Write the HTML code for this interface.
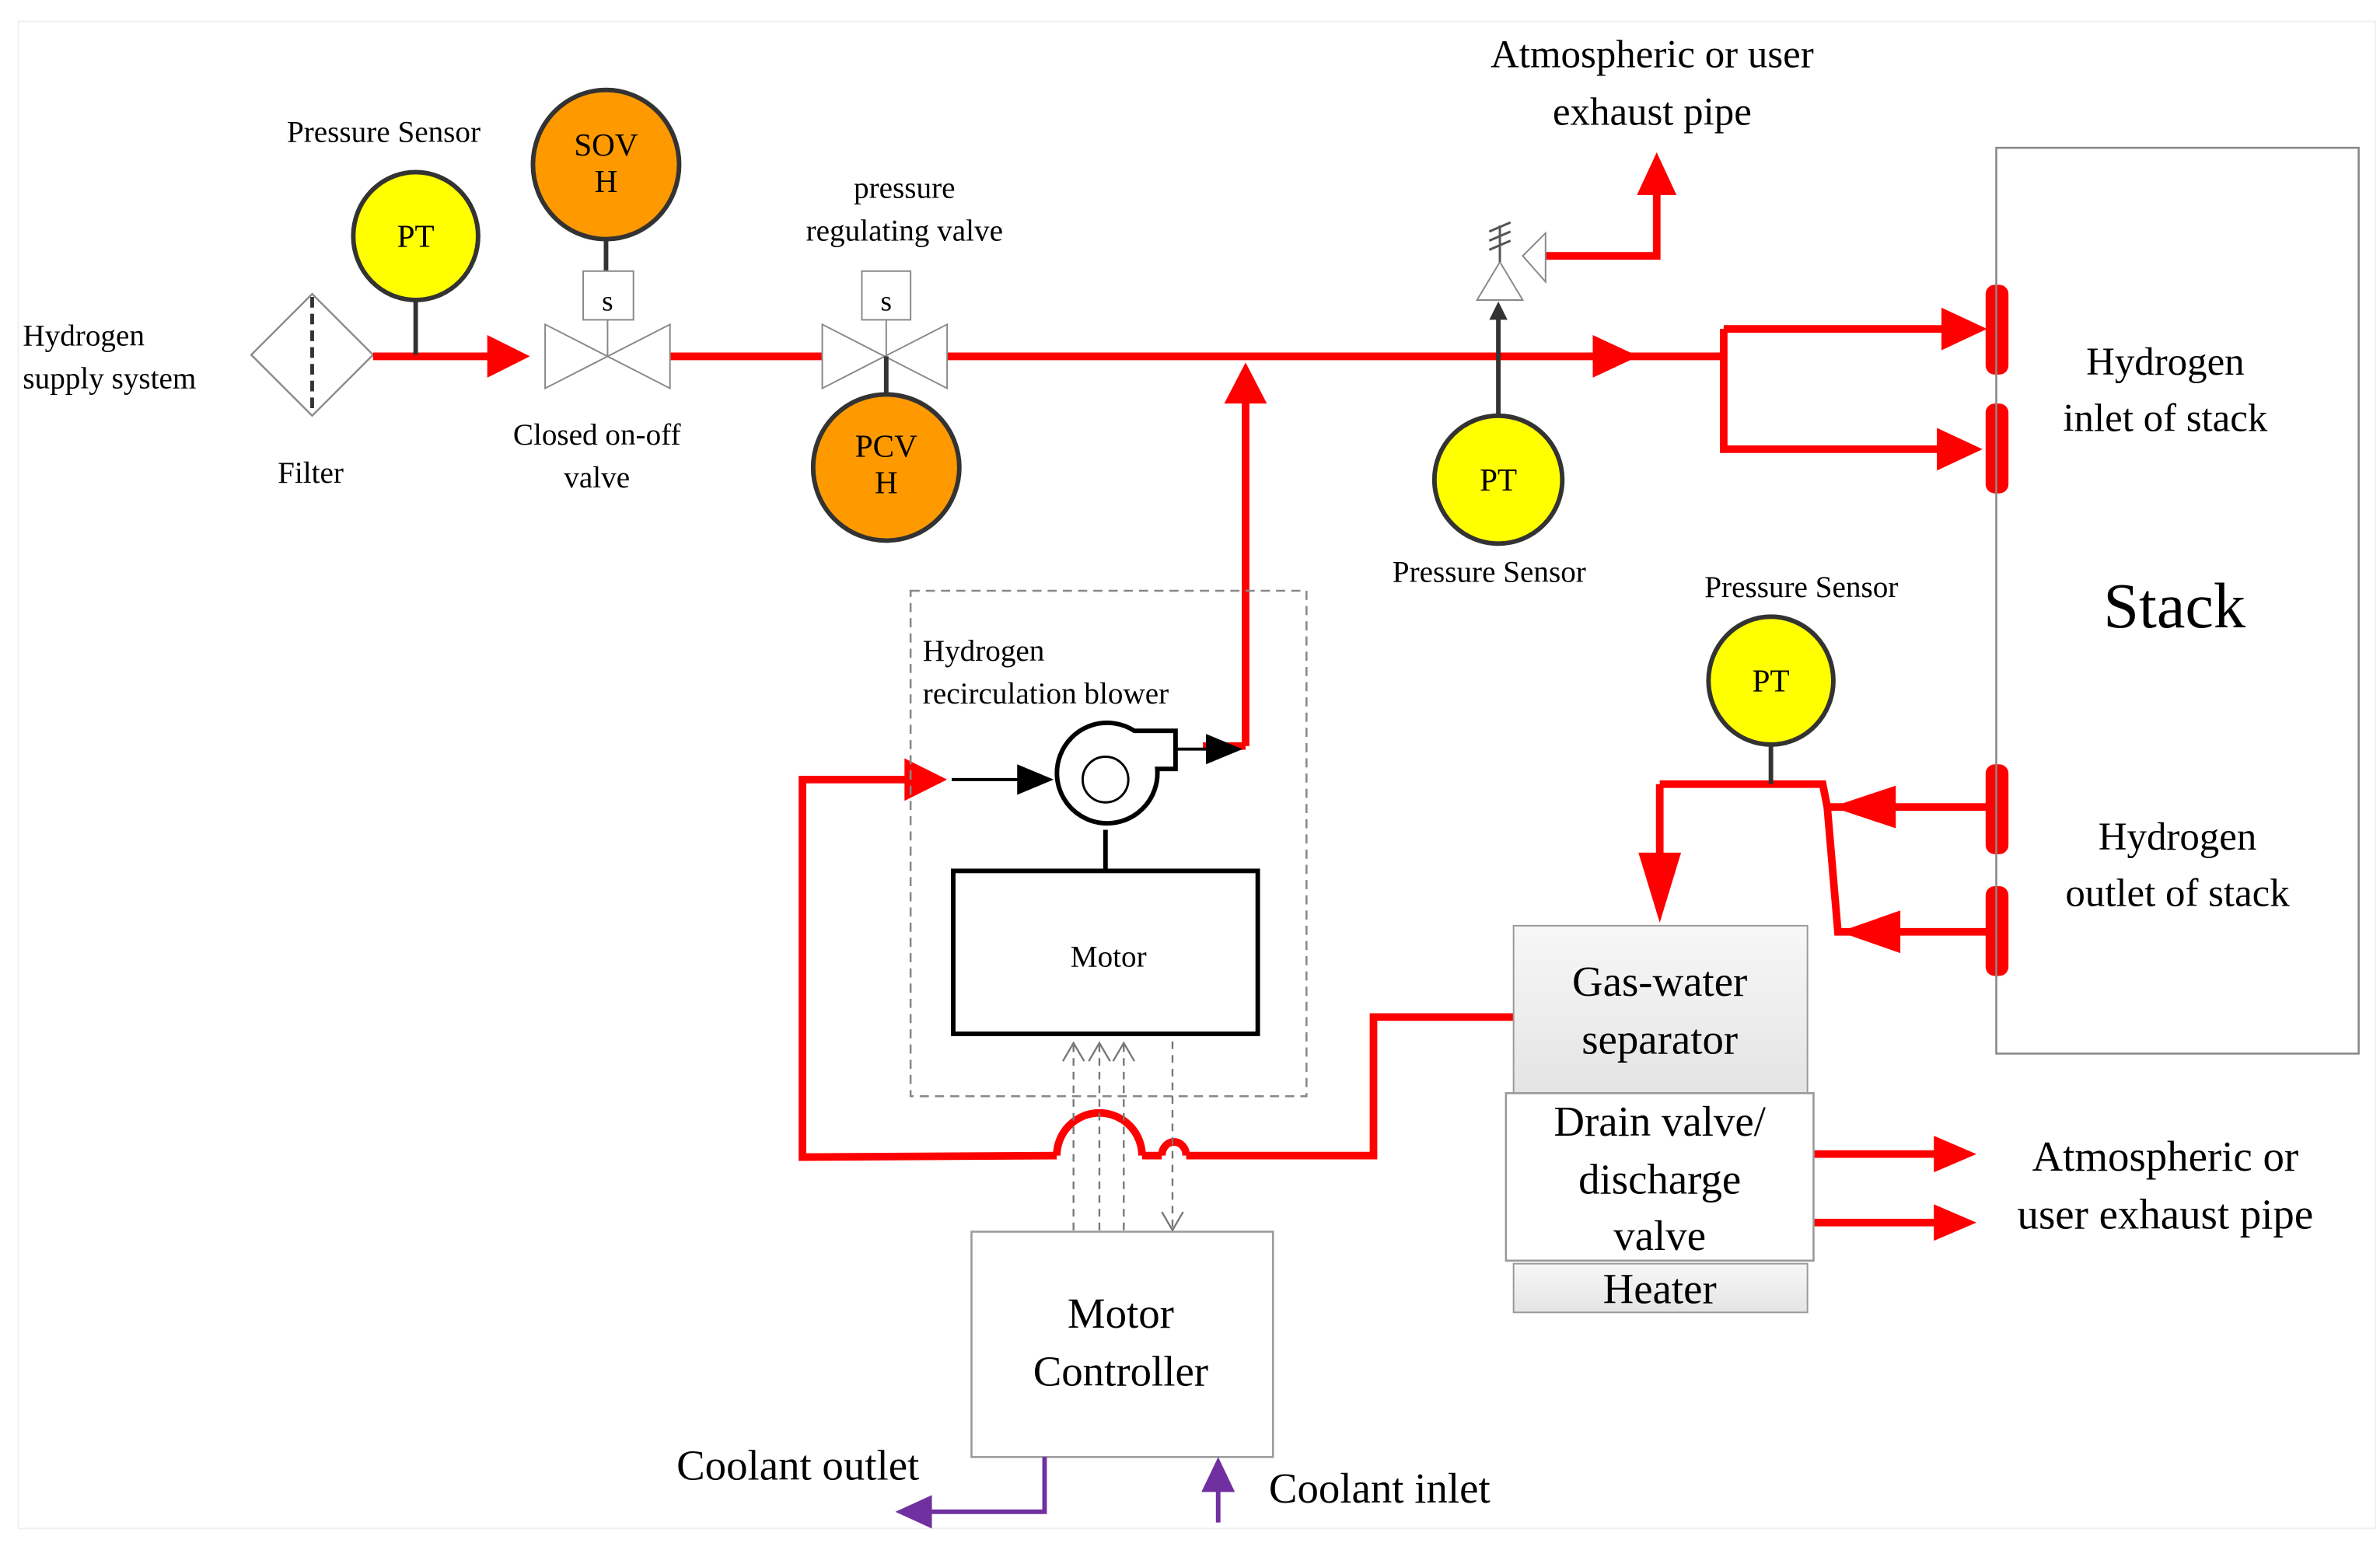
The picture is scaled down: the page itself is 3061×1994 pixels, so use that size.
<!DOCTYPE html>
<html><head><meta charset="utf-8"><style>html,body{margin:0;padding:0;background:#fff}svg{display:block}</style></head>
<body>
<svg width="3061" height="1994" viewBox="0 0 1563 1018" xmlns="http://www.w3.org/2000/svg" font-family="'Liberation Serif', serif" text-anchor="middle">
<defs>
<linearGradient id="g" x1="0" y1="0" x2="0" y2="1"><stop offset="0" stop-color="#f7f7f7"/><stop offset="1" stop-color="#e4e4e4"/></linearGradient>
</defs>
<rect x="12" y="14" width="1548" height="990" fill="none" stroke="#f0f0f0"/>
<!-- Filter -->
<polygon points="205,193 245,233 205,273 165,233" fill="#fff" stroke="#888" stroke-width="1.2"/>
<line x1="205" y1="195" x2="205" y2="271" stroke="#333" stroke-width="2.5" stroke-dasharray="7,4"/>
<text x="15" y="227" font-size="20" text-anchor="start">Hydrogen</text>
<text x="15" y="255" font-size="20" text-anchor="start">supply system</text>
<text x="204" y="317" font-size="20">Filter</text>
<!-- red main -->
<g stroke="#f00" stroke-width="5" fill="none">
<line x1="245" y1="234" x2="325" y2="234"/>
<line x1="440" y1="234" x2="540" y2="234"/>
<line x1="622" y1="234" x2="1052" y2="234"/>
<polyline points="1070,234 1132,234"/>
<polyline points="1132,216 1132,295 1285,295"/>
<polyline points="1132,216 1285,216"/>
<line x1="818" y1="490" x2="818" y2="260"/>
<polyline points="790,490 818,490"/>
<polyline points="1015,168 1088,168 1088,120"/>
<polyline points="994,668 902,668 902,759 779,759"/>
<path d="M763,759 a8,9 0 0 1 16,0"/>
<path d="M750,759 L763,759"/>
<path d="M694,759 a28,28 0 0 1 56,0"/>
<polyline points="694,759 527,760 527,512 600,512"/>
<polyline points="1090,515 1197,515 1200,530 1305,530"/>
<polyline points="1200,530 1207,612 1305,612"/>
<line x1="1090" y1="515" x2="1090" y2="565"/>
<line x1="1191" y1="758" x2="1275" y2="758"/>
<line x1="1191" y1="803" x2="1275" y2="803"/>
</g>
<g fill="#f00">
<polygon points="320,220 348,234 320,248"/>
<polygon points="1046,220 1076,234 1046,248"/>
<polygon points="1275,202 1305,216 1275,230"/>
<polygon points="1272,281 1302,295 1272,309"/>
<polygon points="804,265 818,238 832,265"/>
<polygon points="1075,128 1088,100 1101,128"/>
<polygon points="594,498 622,512 594,526"/>
<polygon points="1076,560 1104,560 1090,606"/>
<polygon points="1245,516 1245,544 1203,530"/>
<polygon points="1248,598 1248,626 1208,612"/>
<polygon points="1270,746 1298,758 1270,770"/>
<polygon points="1270,791 1298,803 1270,815"/>
<rect x="1304" y="187" width="15" height="59" rx="6"/>
<rect x="1304" y="265" width="15" height="59" rx="6"/>
<rect x="1304" y="502" width="15" height="59" rx="6"/>
<rect x="1304" y="582" width="15" height="59" rx="6"/>
</g>
<!-- PT 1 -->
<line x1="273" y1="195" x2="273" y2="233" stroke="#333" stroke-width="3"/>
<ellipse cx="273" cy="155" rx="41" ry="42" fill="#ff0" stroke="#333" stroke-width="3"/>
<text x="273" y="162" font-size="21">PT</text>
<text x="252" y="93" font-size="20">Pressure Sensor</text>
<!-- SOV -->
<line x1="398" y1="155" x2="398" y2="178" stroke="#333" stroke-width="3"/>
<ellipse cx="398" cy="108" rx="48" ry="49" fill="#f90" stroke="#333" stroke-width="3"/>
<text x="398" y="102" font-size="21">SOV</text>
<text x="398" y="126" font-size="21">H</text>
<rect x="383" y="178" width="33" height="32" fill="#fff" stroke="#888"/>
<text x="399" y="204" font-size="19">s</text>
<line x1="399" y1="210" x2="399" y2="234" stroke="#888"/>
<polygon points="358,213 440,255 440,213 358,255" fill="#fff" stroke="#888"/>
<text x="392" y="292" font-size="20">Closed on-off</text>
<text x="392" y="320" font-size="20">valve</text>
<!-- PCV -->
<rect x="566" y="178" width="32" height="32" fill="#fff" stroke="#888"/>
<text x="582" y="204" font-size="19">s</text>
<line x1="582" y1="210" x2="582" y2="234" stroke="#888"/>
<polygon points="540,213 622,255 622,213 540,255" fill="#fff" stroke="#888"/>
<line x1="582" y1="234" x2="582" y2="262" stroke="#333" stroke-width="3"/>
<ellipse cx="582" cy="307" rx="48" ry="48" fill="#f90" stroke="#333" stroke-width="3"/>
<text x="582" y="300" font-size="21">PCV</text>
<text x="582" y="324" font-size="21">H</text>
<text x="594" y="130" font-size="20">pressure</text>
<text x="594" y="158" font-size="20">regulating valve</text>
<!-- relief -->
<polygon points="970,197 985,172 1000,197" fill="#fff" stroke="#888"/>
<polygon points="1000,168 1015,153 1015,185" fill="#fff" stroke="#888"/>
<line x1="985" y1="172" x2="985" y2="148" stroke="#555" stroke-width="1.5"/>
<g stroke="#555" stroke-width="1.5"><line x1="978" y1="152" x2="992" y2="146"/><line x1="978" y1="158" x2="992" y2="152"/><line x1="978" y1="164" x2="992" y2="158"/></g>
<line x1="984" y1="272" x2="984" y2="208" stroke="#333" stroke-width="3"/>
<polygon points="978,210 984,198 990,210" fill="#333"/>
<ellipse cx="984" cy="315" rx="42" ry="42" fill="#ff0" stroke="#333" stroke-width="3"/>
<text x="984" y="322" font-size="21">PT</text>
<text x="978" y="382" font-size="20">Pressure Sensor</text>
<text x="1085" y="44" font-size="26">Atmospheric or user</text>
<text x="1085" y="82" font-size="26">exhaust pipe</text>
<!-- Stack -->
<rect x="1311" y="97" width="238" height="595" fill="none" stroke="#888" stroke-width="1.3"/>
<text x="1428" y="412" font-size="42">Stack</text>
<text x="1422" y="246" font-size="26">Hydrogen</text>
<text x="1422" y="283" font-size="26">inlet of stack</text>
<text x="1430" y="558" font-size="26">Hydrogen</text>
<text x="1430" y="595" font-size="26">outlet of stack</text>
<!-- PT 3 -->
<line x1="1163" y1="487" x2="1163" y2="515" stroke="#333" stroke-width="3"/>
<ellipse cx="1163" cy="447" rx="41" ry="42" fill="#ff0" stroke="#333" stroke-width="3"/>
<text x="1163" y="454" font-size="21">PT</text>
<text x="1183" y="392" font-size="20">Pressure Sensor</text>
<!-- separator -->
<rect x="994" y="608" width="193" height="110" fill="url(#g)" stroke="#999"/>
<text x="1090" y="654" font-size="28">Gas-water</text>
<text x="1090" y="692" font-size="28">separator</text>
<rect x="989" y="718" width="202" height="110" fill="#fff" stroke="#999" stroke-width="1.3"/>
<text x="1090" y="746" font-size="28">Drain valve/</text>
<text x="1090" y="784" font-size="28">discharge</text>
<text x="1090" y="821" font-size="28">valve</text>
<rect x="994" y="830" width="193" height="32" fill="url(#g)" stroke="#999"/>
<text x="1090" y="856" font-size="28">Heater</text>
<text x="1422" y="769" font-size="28">Atmospheric or</text>
<text x="1422" y="807" font-size="28">user exhaust pipe</text>
<!-- blower -->
<rect x="598" y="388" width="260" height="332" fill="none" stroke="#888" stroke-width="1.3" stroke-dasharray="6,4"/>
<text x="606" y="434" font-size="20" text-anchor="start">Hydrogen</text>
<text x="606" y="462" font-size="20" text-anchor="start">recirculation blower</text>
<line x1="625" y1="512" x2="672" y2="512" stroke="#000" stroke-width="2"/>
<polygon points="668,502 692,512 668,522" fill="#000"/>
<path d="M745,480 L772,480 L772,505 L760,505 A33,33 0 1 1 745,480 Z" fill="#fff" stroke="#000" stroke-width="3"/>
<circle cx="726" cy="512" r="15" fill="#fff" stroke="#000" stroke-width="1.5"/>
<line x1="772" y1="492" x2="795" y2="492" stroke="#000" stroke-width="2"/>
<polygon points="792,482 816,492 792,502" fill="#000"/>
<line x1="726" y1="545" x2="726" y2="572" stroke="#000" stroke-width="3"/>
<rect x="626" y="572" width="200" height="107" fill="#fff" stroke="#000" stroke-width="3"/>
<text x="728" y="635" font-size="20">Motor</text>
<g stroke="#777" stroke-width="1.2" fill="none">
<g stroke-dasharray="5,4"><line x1="705" y1="686" x2="705" y2="809"/><line x1="722" y1="686" x2="722" y2="809"/><line x1="738" y1="686" x2="738" y2="809"/><line x1="770" y1="684" x2="770" y2="807"/></g>
<polyline points="698,697 705,685 712,697"/><polyline points="715,697 722,685 729,697"/><polyline points="731,697 738,685 745,697"/>
<polyline points="763,796 770,808 777,796"/>
</g>
<rect x="638" y="809" width="198" height="148" fill="#fff" stroke="#999" stroke-width="1.3"/>
<text x="736" y="872" font-size="28">Motor</text>
<text x="736" y="910" font-size="28">Controller</text>
<!-- coolant -->
<polyline points="686,957 686,993 610,993" fill="none" stroke="#7030a0" stroke-width="3"/>
<polygon points="612,982 588,993 612,1004" fill="#7030a0"/>
<line x1="800" y1="1000" x2="800" y2="978" stroke="#7030a0" stroke-width="3"/>
<polygon points="789,980 800,957 811,980" fill="#7030a0"/>
<text x="524" y="972" font-size="28">Coolant outlet</text>
<text x="906" y="987" font-size="28">Coolant inlet</text>
</svg>
</body></html>
